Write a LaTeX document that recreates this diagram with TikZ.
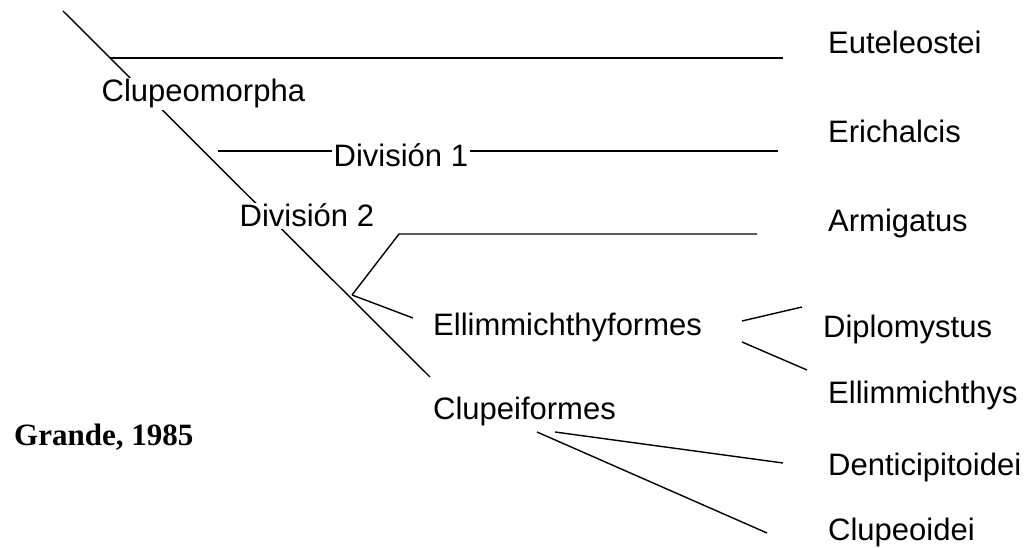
\documentclass[tikz,border=0pt]{standalone}
\usepackage{fontspec}
\setmainfont{Liberation Sans}
\newfontfamily\grandefont{Liberation Serif}
\pgfdeclarelayer{bg}
\pgfsetlayers{bg,main}

\tikzset{
  taxon/.style={anchor=base west, inner sep=0pt, font=\fontsize{31}{37}\selectfont},
  cut/.style={taxon, fill=white, inner sep=1.5pt},
  branch/.style={line width=1.4pt}
}

\begin{document}
\begin{tikzpicture}[x=1pt,y=-1pt]
\useasboundingbox (0,0) rectangle (1031,548);

% labels
\node[taxon] (eut) at (828,54) {Euteleostei};
\node[taxon] (eri) at (828,143) {Erichalcis};
\node[taxon] (arm) at (828,232) {Armigatus};
\node[taxon] (dip) at (823,337) {Diplomystus};
\node[taxon] (ell) at (828,403) {Ellimmichthys};
\node[taxon] (den) at (828,475) {Denticipitoidei};
\node[taxon] (clo) at (828,540) {Clupeoidei};

\node[cut] (clm) at (100,102) {Clupeomorpha};
\node[cut] (div1) at (332,167) {División 1};
\node[cut] (div2) at (238,227) {División 2};
\node[taxon] (elf) at (433,335) {Ellimmichthyformes};
\node[taxon] (clf) at (433,419) {Clupeiformes};

\node[anchor=base west, inner sep=0pt, font=\grandefont\bfseries\fontsize{31}{37}\selectfont] (grande) at (14,445) {Grande, 1985};

% branch points and free ends
\coordinate (root) at (63,11);
\coordinate (tip) at (430,377);
\coordinate (n1) at (110,58);
\coordinate (e1) at (783,58);
\coordinate (n2) at (218,151);
\coordinate (e2) at (778,151);
\coordinate (n3) at (352,295);
\coordinate (k3) at (399,234);
\coordinate (e3) at (757,234);
\coordinate (e4) at (413,318);
\coordinate (d1) at (742,321);
\coordinate (d2) at (802,307);
\coordinate (m1) at (742,342);
\coordinate (m2) at (807,370);
\coordinate (c1) at (537,432);
\coordinate (c2) at (767,533);
\coordinate (c3) at (555,432);
\coordinate (c4) at (783,463);

\begin{pgfonlayer}{bg}
\draw[branch] (root) -- (tip);
\draw[branch] (n1) -- (e1);
\draw[branch] (n2) -- (e2);
\end{pgfonlayer}

\draw[branch] (n3) -- (k3) -- (e3);
\draw[branch] (n3) -- (e4);
\draw[branch] (d1) -- (d2);
\draw[branch] (m1) -- (m2);
\draw[branch] (c1) -- (c2);
\draw[branch] (c3) -- (c4);

\end{tikzpicture}
\end{document}
